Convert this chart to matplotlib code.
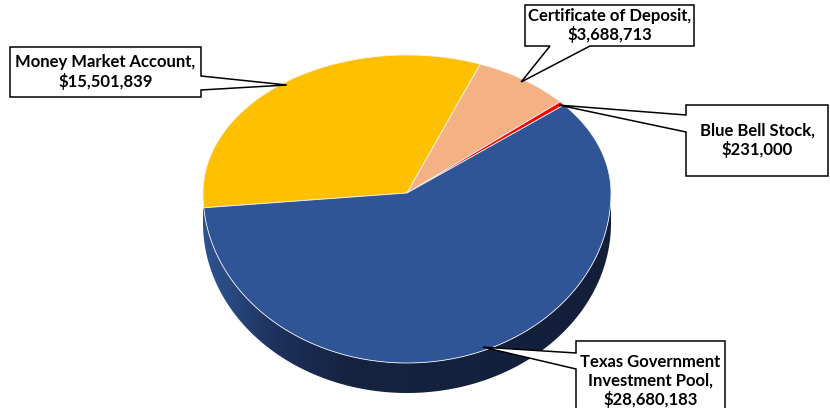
#!/usr/bin/env python3
"""
Investment holdings as a tilted (3-D look) pie with Excel-style callout labels.
"""

import numpy as np
import matplotlib.pyplot as plt
from matplotlib.patches import Polygon
from matplotlib.colors import to_rgb

# data
labels = ["Money Market Account", "Certificate of Deposit", "Blue Bell Stock",
          "Texas Government\nInvestment Pool"]
values = [15501839, 3688713, 231000, 28680183]
colors = ["#ffc000", "#f4b183", "#ff0000", "#2f5597"]

# pie geometry in pixel space (y grows downward)
CX, CY = 407, 193
RX, RY_TOP, RY_BOT = 204, 138, 170
DEPTH = 30
START = 185  # degrees, slices go clockwise

# callout boxes: (x0, y0, x1, y1), side the pointer leaves from, pointer base
boxes = [
    ((10, 47, 201, 97), "right", (76, 90)),
    ((525, 5, 694, 46), "bottom", (550, 590)),
    ((686, 105, 828, 176), "left", (115, 132)),
    ((576, 341, 725, 420), "left", (353, 369)),
]


def ellipse_xy(theta_deg, r=1.0, dy=0.0):
    t = np.radians(theta_deg)
    s = np.sin(t)
    ry = np.where(s > 0, RY_TOP, RY_BOT)
    return CX + r * RX * np.cos(t), CY - r * ry * s + dy


def callout_poly(box, side, base, anchor):
    x0, y0, x1, y1 = box
    ax_, ay_ = anchor
    if side == "right":
        return [(x0, y0), (x1, y0), (x1, base[0]), (ax_, ay_), (x1, base[1]),
                (x1, y1), (x0, y1)]
    if side == "bottom":
        return [(x0, y0), (x1, y0), (x1, y1), (base[1], y1), (ax_, ay_),
                (base[0], y1), (x0, y1)]
    # left
    return [(x0, y0), (x1, y0), (x1, y1), (x0, y1), (x0, base[1]),
            (ax_, ay_), (x0, base[0])]


fig = plt.figure(figsize=(8.3, 4.08), dpi=100)
ax = fig.add_axes([0, 0, 1, 1])
ax.set_xlim(0, 830)
ax.set_ylim(408, 0)
ax.axis("off")

fracs = np.array(values) / np.sum(values)
edges = START - 360 * np.concatenate([[0], np.cumsum(fracs)])

# side wall of the front half, shaded from mid blue (left) to navy
th = np.linspace(180, 360, 300)
xt, yt = ellipse_xy(th)
xb, yb = ellipse_xy(th[::-1], dy=DEPTH)
side = Polygon(list(zip(xt, yt)) + list(zip(xb, yb)), closed=True,
               facecolor="none", edgecolor="none")
ax.add_patch(side)

stop_x = np.array([CX - RX, CX - RX + 25, CX - RX + 70, CX - 60, CX + RX])
stop_c = np.array([to_rgb(c) for c in
                   ["#2f5291", "#294a82", "#1d325c", "#15233f", "#131f3a"]])
gx = np.linspace(CX - RX - 2, CX + RX + 2, 420)
grad = np.stack([np.interp(gx, stop_x, stop_c[:, k]) for k in range(3)], axis=-1)
img = ax.imshow(grad[np.newaxis, :, :], extent=(gx[0], gx[-1], CY + RY_BOT + DEPTH + 2, CY - 5),
                aspect="auto", interpolation="bilinear", zorder=1)
img.set_clip_path(side)
ax.set_xlim(0, 830)
ax.set_ylim(408, 0)

# top face wedges
for i, c in enumerate(colors):
    th = np.linspace(edges[i], edges[i + 1], max(3, int(abs(edges[i] - edges[i + 1]) * 2)))
    xs, ys = ellipse_xy(th)
    pts = [(CX, CY)] + list(zip(xs, ys))
    ax.add_patch(Polygon(pts, closed=True, facecolor=c, edgecolor="#f2f2f2",
                         linewidth=0.6, joinstyle="round", zorder=2))

# callouts
for i, (box, side_name, base) in enumerate(boxes):
    mid = (edges[i] + edges[i + 1]) / 2
    anchor = ellipse_xy(mid, r=0.98)
    poly = callout_poly(box, side_name, base, (float(anchor[0]), float(anchor[1])))
    ax.add_patch(Polygon(poly, closed=True, facecolor="white",
                         edgecolor="black", linewidth=1.1, zorder=5))
    x0, y0, x1, y1 = box
    ytxt = (y0 + y1) / 2 if i != 3 else 381
    ax.text((x0 + x1) / 2, ytxt, f"{labels[i]},\n${values[i]:,}",
            ha="center", va="center", fontsize=12, fontweight="bold",
            family="Lato", linespacing=1.2, zorder=6)

fig.savefig("out.png", dpi=100)
